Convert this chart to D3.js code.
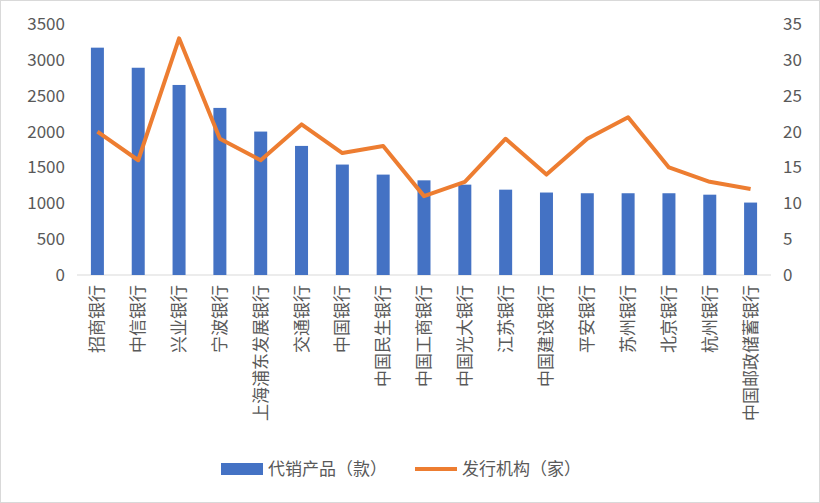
<!DOCTYPE html>
<html><head><meta charset="utf-8">
<script src="https://cdn.jsdelivr.net/npm/d3@7"></script>
<style>body{margin:0;background:#fff;font-family:"Noto Sans CJK SC",sans-serif;}</style>
</head><body><svg id="chart" width="820" height="503"></svg>
<script>
const banks = ['招商银行','中信银行','兴业银行','宁波银行','上海浦东发展银行','交通银行','中国银行','中国民生银行','中国工商银行','中国光大银行','江苏银行','中国建设银行','平安银行','苏州银行','北京银行','杭州银行','中国邮政储蓄银行'];
const products = [3170,2890,2650,2330,2000,1800,1540,1400,1320,1260,1190,1150,1140,1140,1140,1120,1010];
const issuers = [20,16,33,19,16,21,17,18,11,13,19,14,19,22,15,13,12];
const leftTicks = [0,500,1000,1500,2000,2500,3000,3500];
const rightTicks = [0,5,10,15,20,25,30,35];

const svg = d3.select('#chart');
const L = 77, R = 771, T = 24, B = 275;
const x = d3.scaleBand().domain(banks).range([L,R]);
const yL = d3.scaleLinear().domain([0,3500]).range([B,T]);
const yR = d3.scaleLinear().domain([0,35]).range([B,T]);
const txt = '#595959';

svg.append('rect').attr('x',0.5).attr('y',0.5).attr('width',819).attr('height',502).attr('fill','#fff').attr('stroke','#d9d9d9');

svg.append('g').attr('transform',`translate(${L},0)`)
  .call(d3.axisLeft(yL).tickValues(leftTicks).tickFormat(d3.format('d')).tickSize(0).tickPadding(12))
  .call(g=>g.select('.domain').remove())
  .selectAll('text').attr('fill',txt).style('font-size','17px').style('font-family','"Noto Sans CJK SC"');
svg.append('g').attr('transform',`translate(${R},0)`)
  .call(d3.axisRight(yR).tickValues(rightTicks).tickSize(0).tickPadding(12))
  .call(g=>g.select('.domain').remove())
  .selectAll('text').attr('fill',txt).style('font-size','17px').style('font-family','"Noto Sans CJK SC"');

svg.append('line').attr('x1',L).attr('x2',R).attr('y1',B).attr('y2',B).attr('stroke','#d9d9d9');

const bw = 13;
svg.selectAll('.bar').data(banks).enter().append('rect')
  .attr('x',d=>x(d)+x.bandwidth()/2-bw/2).attr('width',bw)
  .attr('y',(d,i)=>yL(products[i])).attr('height',(d,i)=>B-yL(products[i]))
  .attr('fill','#4472c4');

svg.append('path').datum(issuers)
  .attr('d',d3.line().x((d,i)=>x(banks[i])+x.bandwidth()/2).y(d=>yR(d)))
  .attr('fill','none').attr('stroke','#ed7d31').attr('stroke-width',4).attr('stroke-linejoin','round');

banks.forEach(b=>{
  svg.append('text')
    .attr('transform',`translate(${x(b)+x.bandwidth()/2+6},${B+10}) rotate(-90)`)
    .attr('text-anchor','end').attr('fill',txt).style('font-size','17px')
    .text(b);
});

const lg = svg.append('g').attr('transform','translate(0,469)');
lg.append('rect').attr('x',221).attr('y',-6).attr('width',42).attr('height',12).attr('fill','#4472c4');
lg.append('text').attr('x',268).attr('y',6).attr('fill',txt).style('font-size','17px').text('代销产品（款）');
lg.append('line').attr('x1',415).attr('x2',457).attr('y1',0).attr('y2',0).attr('stroke','#ed7d31').attr('stroke-width',4);
lg.append('text').attr('x',462).attr('y',6).attr('fill',txt).style('font-size','17px').text('发行机构（家）');
</script></body></html>
